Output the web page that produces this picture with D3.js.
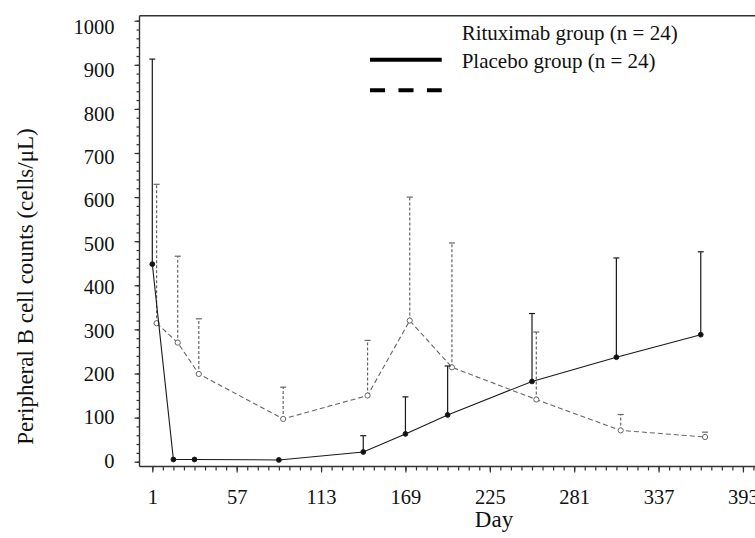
<!DOCTYPE html>
<html>
<head>
<meta charset="utf-8">
<script src="https://cdn.jsdelivr.net/npm/d3@7"></script>
<style>
	body { margin: 0; background: #fff; }
	text { font-family: 'Liberation Serif', 'Times New Roman', serif; fill: #111; }
</style>
</head>
<body>
<div class="line-chart"></div>
<script>
// DATA ----------------------------------------------

const days = [1, 15, 29, 85, 141, 169, 197, 253, 309, 365];

const rituximabMean = [448, 5, 5, 4, 22, 63, 106, 182, 237, 288];
const rituximabSD = [465, 0, 0, 0, 37, 84, 111, 154, 225, 188];

const placeboMean = [314, 270, 199, 97, 150, 320, 214, 141, 71, 56];
const placeboSD = [315, 196, 125, 72, 125, 280, 282, 153, 36, 11];

const legendLabels = ['Rituximab group (n = 24)', 'Placebo group (n = 24)'];

const xMajorTicks = d3.range(1, 394, 56);
const xMinorTicks = d3.range(1, 401, 7);
const yMajorTicks = d3.range(0, 1001, 100);
const yMinorTicks = d3.range(0, 1001, 20);

// CHART INIT ----------------------------------------

const width = 755;
const height = 538;
const box = {left: 139.5, top: 15.7, bottom: 466.5, right: 755};
const dodge = 4.3; // placebo drawn a little to the right

const svg = d3.select('.line-chart').append('svg')
	.attr('width', width)
	.attr('height', height);

const xScale = d3.scaleLinear()
	.domain([-7.5, 401])
	.range([box.left, box.right]);

const yScale = d3.scaleLinear()
	.domain([0, 1000])
	.range([461.7, 20.7]);

// labels sit slightly lower than their ticks toward the top
const labelDrift = d3.scaleLinear()
	.domain([0, 1000])
	.range([-1, 6]);

// frame
svg.append('line')
	.attr('x1', box.left).attr('x2', box.right)
	.attr('y1', box.top).attr('y2', box.top)
	.attr('stroke', '#333').attr('stroke-width', 1.4);

svg.append('line')
	.attr('x1', box.left).attr('x2', box.left)
	.attr('y1', box.top).attr('y2', box.bottom)
	.attr('stroke', '#333').attr('stroke-width', 1.4);

svg.append('line')
	.attr('x1', box.left).attr('x2', box.right)
	.attr('y1', box.bottom).attr('y2', box.bottom)
	.attr('stroke', '#333').attr('stroke-width', 1.4);

// AXES ----------------------------------------------

svg.append('g')
	.attr('transform', `translate(${box.left},0)`)
	.call(d3.axisLeft(yScale).tickValues(yMinorTicks).tickSize(3).tickFormat(''));

const yMajor = svg.append('g')
	.attr('transform', `translate(${box.left},0)`)
	.call(d3.axisLeft(yScale).tickValues(yMajorTicks).tickSize(5).tickPadding(20).tickFormat(d3.format('d')));

yMajor.selectAll('text')
	.attr('dy', d => (0.32 * 20.5 + labelDrift(d)) + 'px');

svg.append('g')
	.attr('transform', `translate(0,${box.bottom})`)
	.call(d3.axisBottom(xScale).tickValues(xMinorTicks).tickSize(4).tickFormat(''));

svg.append('g')
	.attr('transform', `translate(0,${box.bottom})`)
	.call(d3.axisBottom(xScale).tickValues(xMajorTicks).tickSize(6).tickPadding(16.5).tickFormat(d3.format('d')));

svg.selectAll('.domain').remove();
svg.selectAll('.tick line')
	.attr('stroke', '#333')
	.attr('stroke-width', 1.2);
svg.selectAll('.tick text')
	.attr('font-family', "'Liberation Serif', serif")
	.attr('font-size', 20.5)
	.attr('fill', '#111');

svg.append('text')
	.attr('x', 494)
	.attr('y', 527)
	.attr('text-anchor', 'middle')
	.attr('font-size', 23)
	.text('Day');

svg.append('text')
	.attr('transform', 'translate(33,286.5) rotate(-90)')
	.attr('text-anchor', 'middle')
	.attr('font-size', 23)
	.text('Peripheral B cell counts (cells/\u03bcL)');

// SERIES --------------------------------------------

const ritux = days.map((d, i) => ({day: d, mean: rituximabMean[i], sd: rituximabSD[i]}));
const placebo = days.map((d, i) => ({day: d, mean: placeboMean[i], sd: placeboSD[i]}));

function drawSeries(data, offset, opts) {
	const g = svg.append('g');

	g.selectAll('.err')
		.data(data.filter(d => d.sd > 0))
		.enter()
		.append('line')
		.attr('x1', d => xScale(d.day) + offset)
		.attr('x2', d => xScale(d.day) + offset)
		.attr('y1', d => yScale(d.mean))
		.attr('y2', d => yScale(d.mean + d.sd))
		.attr('stroke', opts.color)
		.attr('stroke-width', 1.2)
		.attr('stroke-dasharray', opts.errDash);

	g.selectAll('.cap')
		.data(data.filter(d => d.sd > 0))
		.enter()
		.append('line')
		.attr('x1', d => xScale(d.day) + offset - 3)
		.attr('x2', d => xScale(d.day) + offset + 3)
		.attr('y1', d => yScale(d.mean + d.sd))
		.attr('y2', d => yScale(d.mean + d.sd))
		.attr('stroke', opts.color)
		.attr('stroke-width', 1.2);

	const line = d3.line()
		.x(d => xScale(d.day) + offset)
		.y(d => yScale(d.mean));

	g.append('path')
		.datum(data)
		.attr('d', line)
		.attr('fill', 'none')
		.attr('stroke', opts.color)
		.attr('stroke-width', 1.1)
		.attr('stroke-dasharray', opts.lineDash);

	g.selectAll('circle')
		.data(data)
		.enter()
		.append('circle')
		.attr('cx', d => xScale(d.day) + offset)
		.attr('cy', d => yScale(d.mean))
		.attr('r', opts.r)
		.attr('fill', opts.fill)
		.attr('stroke', opts.color)
		.attr('stroke-width', 1);
}

drawSeries(placebo, dodge, {color: '#666', fill: '#fff', r: 2.6, lineDash: '5,3', errDash: '3,2'});
drawSeries(ritux, 0, {color: '#1a1a1a', fill: '#111', r: 2.4, lineDash: null, errDash: null});

// LEGEND --------------------------------------------

const legendDash = [null, '15,13.5'];
const legendLineY = [59.7, 90.3];
const legendTextY = [40, 68.3];

legendLabels.forEach((label, i) => {
	svg.append('line')
		.attr('x1', 370).attr('x2', 441.7)
		.attr('y1', legendLineY[i]).attr('y2', legendLineY[i])
		.attr('stroke', '#000')
		.attr('stroke-width', 4)
		.attr('stroke-dasharray', legendDash[i]);

	svg.append('text')
		.attr('x', 461.7)
		.attr('y', legendTextY[i])
		.attr('font-size', 21)
		.text(label);
});
</script>
</body>
</html>
